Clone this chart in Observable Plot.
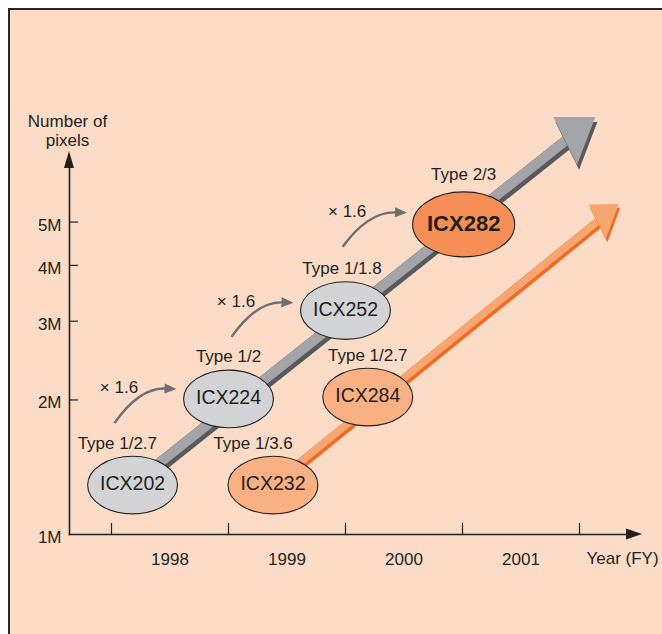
<!DOCTYPE html>
<html>
<head>
<meta charset="utf-8">
<script src="https://cdn.jsdelivr.net/npm/d3@7"></script>
<script src="https://cdn.jsdelivr.net/npm/@observablehq/plot@0.6"></script>
<style>
html,body{margin:0;padding:0;background:#ffffff;overflow:hidden;width:662px;height:634px}
#panel{position:absolute;left:8px;top:8px;width:720px;height:720px;box-sizing:border-box;border-left:2.5px solid #2a2627;border-top:2.5px solid #2a2627;background:#fcdcc6}
#chart{position:absolute;left:0;top:0}
</style>
</head>
<body>
<div id="panel"></div>
<div id="chart"></div>
<script>
// ---------------- data ----------------
const models        = ["ICX202", "ICX224", "ICX252", "ICX282", "ICX232", "ICX284"];
const modelYear     = [1997.68, 1998.5, 1999.5, 2000.51, 1998.88, 1999.69];
const modelPixels   = [1.29e6, 2.01e6, 3.17e6, 4.94e6, 1.29e6, 2.03e6];
const modelSeries   = ["gray", "gray", "gray", "flagship", "orange", "orange"];
const opticalFormat = ["Type 1/2.7", "Type 1/2", "Type 1/1.8", "Type 2/3", "Type 1/3.6", "Type 1/2.7"];
const formatLabelYear = [1997.55, 1998.5, 1999.47, 2000.51, 1998.71, 1999.69];

// trend arrows (start year / pixels -> arrow tip year / pixels)
const trendSeries     = ["gray", "orange"];
const trendFromYear   = [1997.68, 1998.88];
const trendFromPixels = [1.29e6, 1.29e6];
const trendToYear     = [2001.64, 2001.84];
const trendToPixels   = [8.57e6, 5.47e6];

// growth steps (x1.6)
const growthLabel      = ["× 1.6", "× 1.6", "× 1.6"];
const growthFromYear   = [1997.53, 1998.53, 1999.48];
const growthFromPixels = [1.77e6, 2.76e6, 4.39e6];
const growthToYear     = [1998.06, 1999.06, 2000.03];
const growthToPixels   = [2.11e6, 3.29e6, 5.23e6];

// axes
const yTickLabels = [1e6, 2e6, 3e6, 4e6, 5e6];
const yTickMarks  = [2e6, 3e6, 4e6, 5e6];
const xTickYears  = [1997.5, 1998.5, 1999.5, 2000.5, 2001.5];
const xLabelYears = [1998, 1999, 2000, 2001];
const yAxisTitle  = "Number of\npixels";
const xAxisTitle  = "Year (FY)";

// ---------------- styles ----------------
const ink = "#231f20";
const font = "'Liberation Sans', Arial, Helvetica, sans-serif";
const small = 17;
const seriesStyle = {
  gray:     {fill: "#d1d3d4", rOuter: 28.8, aspect: 1.56},
  orange:   {fill: "#f9b183", rOuter: 28.8, aspect: 1.56},
  flagship: {fill: "#f58f55", rOuter: 32.5, aspect: 1.57}
};
const trendStyle = {
  gray:   {light: "#a2a4a7", dark: "#58595b", wLight: 10, wDark: 4.5, head: 1},
  orange: {light: "#f8a671", dark: "#f26a22", wLight: 7.5, wDark: 3.5, head: 0.72}
};

// ---------------- tables ----------------
const sensors = models.map((m, i) => ({
  model: m, year: modelYear[i], pixels: modelPixels[i], series: modelSeries[i],
  format: opticalFormat[i], labelYear: formatLabelYear[i]
}));
const trends = trendSeries.map((s, i) => ({
  series: s, fromYear: trendFromYear[i], fromPixels: trendFromPixels[i],
  toYear: trendToYear[i], toPixels: trendToPixels[i]
}));
const growth = growthLabel.map((l, i) => ({
  label: l, fromYear: growthFromYear[i], fromPixels: growthFromPixels[i],
  toYear: growthToYear[i], toPixels: growthToPixels[i]
}));

function ellipseSymbol(aspect) {
  return {
    draw(ctx, size) {
      const ry = Math.sqrt(size / Math.PI), rx = ry * aspect, k = 0.5523;
      ctx.moveTo(rx, 0);
      ctx.bezierCurveTo(rx, k * ry, k * rx, ry, 0, ry);
      ctx.bezierCurveTo(-k * rx, ry, -rx, k * ry, -rx, 0);
      ctx.bezierCurveTo(-rx, -k * ry, -k * rx, -ry, 0, -ry);
      ctx.bezierCurveTo(k * rx, -ry, rx, -k * ry, rx, 0);
      ctx.closePath();
    }
  };
}

// trend bands with arrowheads, drawn through the plot's scales
function trendMark(index, scales) {
  const g = d3.create("svg:g");
  for (const t of trends) {
    const st = trendStyle[t.series];
    const x0 = scales.x(t.fromYear), y0 = scales.y(t.fromPixels);
    const x1 = scales.x(t.toYear), y1 = scales.y(t.toPixels);
    const L = Math.hypot(x1 - x0, y1 - y0);
    const ux = (x1 - x0) / L, uy = (y1 - y0) / L;
    const nx = -uy, ny = ux; // normal pointing down-right
    const s = st.head;
    const ex = x1 - ux * 30 * s, ey = y1 - uy * 30 * s;
    const off = st.wDark / 2;
    g.append("line")
      .attr("x1", x0 + nx * off).attr("y1", y0 + ny * off)
      .attr("x2", ex + nx * off).attr("y2", ey + ny * off)
      .attr("stroke", st.dark).attr("stroke-width", st.wLight + st.wDark);
    g.append("line")
      .attr("x1", x0).attr("y1", y0).attr("x2", ex).attr("y2", ey)
      .attr("stroke", st.light).attr("stroke-width", st.wLight);
    const A = [x1 + (-33 * ux - 26 * nx) * s, y1 + (-33 * uy - 26 * ny) * s];
    const C = [x1 + (-44 * ux + 26 * nx) * s, y1 + (-44 * uy + 26 * ny) * s];
    const B = [x1, y1];
    const tri = (dx, dy) => [A, B, C].map(p => (p[0] + dx) + "," + (p[1] + dy)).join(" ");
    g.append("polygon").attr("points", tri(2 * s, 5 * s)).attr("fill", st.dark);
    g.append("polygon").attr("points", tri(0, 0)).attr("fill", st.light);
  }
  return g.node();
}

// curved growth arrows
function growthMark(index, scales) {
  const g = d3.create("svg:g");
  for (const a of growth) {
    const sx = scales.x(a.fromYear), sy = scales.y(a.fromPixels);
    const tx = scales.x(a.toYear), ty = scales.y(a.toPixels);
    const cx = sx + 0.4 * (tx - sx), cy = ty - 1.5;
    const dx = tx - cx, dy = ty - cy, L = Math.hypot(dx, dy);
    const ux = dx / L, uy = dy / L, nx = -uy, ny = ux;
    const hl = 12, hw = 5;
    const bx = tx - ux * hl, by = ty - uy * hl;
    g.append("path")
      .attr("d", `M${sx},${sy}Q${cx},${cy} ${bx + ux * 1},${by + uy * 1}`)
      .attr("fill", "none").attr("stroke", "#6d6e71").attr("stroke-width", 2.4);
    g.append("polygon")
      .attr("points", `${tx},${ty} ${bx + nx * hw},${by + ny * hw} ${bx - nx * hw},${by - ny * hw}`)
      .attr("fill", "#6d6e71");
  }
  return g.node();
}

// axis arrowheads at the ends of the frame lines
function axisArrows(index, scales, values, dims) {
  const g = d3.create("svg:g");
  const xl = dims.marginLeft, yt = dims.marginTop;
  const xr = dims.width - dims.marginRight, yb = dims.height - dims.marginBottom;
  g.append("polygon").attr("points", `${xl},${yt - 17} ${xl - 5},${yt} ${xl + 5},${yt}`).attr("fill", ink);
  g.append("polygon").attr("points", `${xr + 14},${yb} ${xr - 2},${yb - 5.5} ${xr - 2},${yb + 5.5}`).attr("fill", ink);
  return g.node();
}

const plot = Plot.plot({
  width: 662,
  height: 634,
  marginLeft: 69,
  marginTop: 168,
  marginRight: 34,
  marginBottom: 100,
  style: {background: "transparent", fontFamily: font, fontSize: small + "px", color: ink, overflow: "visible"},
  x: {type: "linear", domain: [1997.5, 2001.5], range: [111, 579], axis: null},
  y: {type: "log", domain: [1e6, 1e7], range: [534, 87], axis: null},
  marks: [
    Plot.frame({anchor: "left", stroke: ink, strokeWidth: 1.6}),
    Plot.frame({anchor: "bottom", stroke: ink, strokeWidth: 1.6}),
    axisArrows,
    Plot.axisY({ticks: yTickMarks, tickSize: -9, tickFormat: () => "", label: null, stroke: ink, strokeWidth: 1.2}),
    Plot.axisY({ticks: yTickLabels, tickSize: 0, tickPadding: 8, tickFormat: d => d / 1e6 + "M", label: null, fontSize: small, dy: 3}),
    Plot.axisX({ticks: xTickYears, tickSize: -11, tickFormat: () => "", label: null, stroke: ink, strokeWidth: 1.2}),
    Plot.axisX({ticks: xLabelYears, tickSize: 0, tickPadding: 18, tickFormat: d => String(d), label: null, fontSize: small}),
    Plot.text([yAxisTitle], {frameAnchor: "top-left", lineAnchor: "middle", dx: -2, dy: -38, textAnchor: "middle", lineHeight: 1.1, fontSize: small, fill: ink}),
    Plot.text([xAxisTitle], {frameAnchor: "bottom-right", lineAnchor: "middle", dx: -6, dy: 24.5, textAnchor: "middle", fontSize: small, fill: ink}),
    trendMark,
    ...Object.keys(seriesStyle).map(s => Plot.dot(sensors.filter(d => d.series === s), {
      x: "year", y: "pixels", r: seriesStyle[s].rOuter, symbol: ellipseSymbol(seriesStyle[s].aspect),
      fill: seriesStyle[s].fill, stroke: ink, strokeWidth: 1.1
    })),
    Plot.text(sensors.filter(d => d.series !== "flagship"), {x: "year", y: "pixels", text: "model", fontSize: 19.5, fill: ink, dy: -1}),
    Plot.text(sensors.filter(d => d.series === "flagship"), {x: "year", y: "pixels", text: "model", fontSize: 22, fontWeight: "bold", fill: ink}),
    Plot.text(sensors.filter(d => d.series !== "flagship"), {x: "labelYear", y: "pixels", text: "format", dy: -42, fontSize: small, fill: ink}),
    Plot.text(sensors.filter(d => d.series === "flagship"), {x: "labelYear", y: "pixels", text: "format", dy: -50, fontSize: small, fill: ink}),
    growthMark,
    Plot.text(growth, {x: "fromYear", y: "fromPixels", text: "label", dx: 4, dy: -36, fontSize: small, fill: ink})
  ]
});
document.getElementById("chart").appendChild(plot);
</script>
</body>
</html>
